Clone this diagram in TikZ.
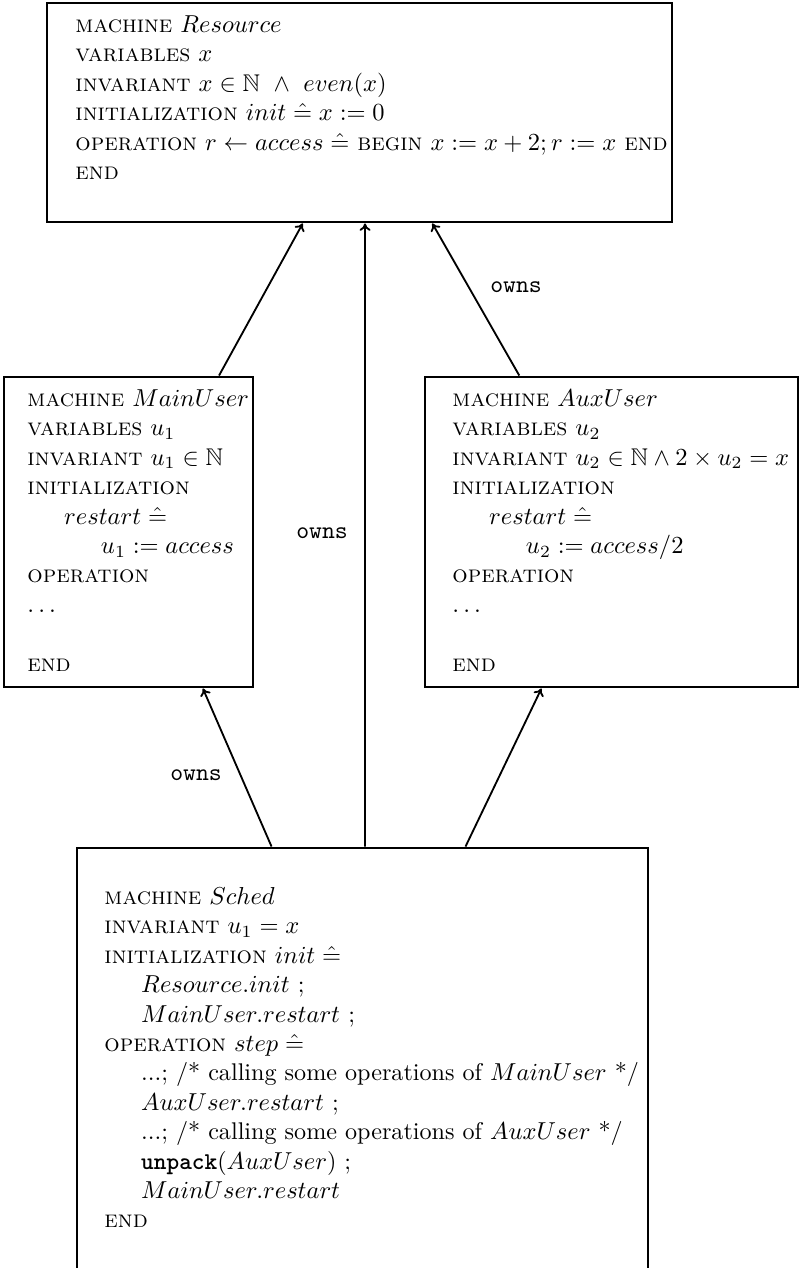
\documentclass[tikz,border=0pt]{standalone}
\usepackage{amssymb}
\usetikzlibrary{arrows.meta,calc,fit}
\newcommand{\defeq}{\mathrel{\hat{=}}}
\newcommand{\kw}[1]{\textsc{#1}}
\begin{document}
\begin{tikzpicture}[x=0.40816pt,y=-0.40816pt,
  machine/.style={draw,line width=1.2pt,inner sep=0pt},
  spec/.style={anchor=north west,inner sep=0pt,align=left,font=\fontsize{9.85}{12}\selectfont},
  ownsarrow/.style={-{To[length=3pt,width=4.5pt]},line width=0.75pt},
  lbl/.style={font=\fontsize{10}{12}\selectfont\ttfamily,inner sep=0pt}]
\useasboundingbox (0,0) rectangle (799,1268);
\clip (0,0) rectangle (799,1268);

% machine boxes
\node[machine,fit={(47,3)(672,222)}] (res) {};
\node[machine,fit={(4,377)(253,687)}] (mainu) {};
\node[machine,fit={(425,377)(798,687)}] (auxu) {};
\node[machine,fit={(77,848)(648,1300)}] (sched) {};

% machine texts
\node[spec] (restxt) at (75,11.4) {\strut\kw{machine} $Resource$\\
\kw{variables} $x$\\
\kw{invariant} $x \in \mathbb{N} \ \wedge\ even(x)$\\
\kw{initialization} $init \defeq x := 0$\\
\kw{operation} $r \leftarrow access \defeq$ \kw{begin} $x := x + 2; r := x$ \kw{end}\\
\kw{end}};

\node[spec] (maintxt) at (27,385.4) {\strut\kw{machine} $MainUser$\\
\kw{variables} $u_1$\\
\kw{invariant} $u_1 \in \mathbb{N}$\\
\kw{initialization}\\
\hspace*{15pt}$restart \defeq$\\
\hspace*{30pt}$u_1 := access$\\
\kw{operation}\\
$\ldots$\\[12pt]
\kw{end}};

\node[spec] (auxtxt) at (452,385.4) {\strut\kw{machine} $AuxUser$\\
\kw{variables} $u_2$\\
\kw{invariant} $u_2 \in \mathbb{N} \wedge 2 \times u_2 = x$\\
\kw{initialization}\\
\hspace*{15pt}$restart \defeq$\\
\hspace*{30pt}$u_2 := access/2$\\
\kw{operation}\\
$\ldots$\\[12pt]
\kw{end}};

\node[spec] (schedtxt) at (104,883.4) {\strut\kw{machine} $Sched$\\
\kw{invariant} $u_1 = x$\\
\kw{initialization} $init \defeq$\\
\hspace*{15pt}$Resource.init$ ;\\
\hspace*{15pt}$MainUser.restart$ ;\\
\kw{operation} $step \defeq$\\
\hspace*{15pt}...; /* calling some operations of $MainUser$ */\\
\hspace*{15pt}$AuxUser.restart$ ;\\
\hspace*{15pt}...; /* calling some operations of $AuxUser$ */\\
\hspace*{15pt}\textbf{\texttt{unpack}}($AuxUser$) ;\\
\hspace*{15pt}$MainUser.restart$\\
\kw{end}};

% ownership arrows
\draw[ownsarrow] ($(mainu.north west)!0.8594!(mainu.north east)$) -- ($(res.south west)!0.4096!(res.south east)$);
\draw[ownsarrow] ($(sched.north west)!0.5044!(sched.north east)$) -- ($(res.south west)!0.5088!(res.south east)$);
\draw[ownsarrow] ($(auxu.north west)!0.2547!(auxu.north east)$) -- ($(res.south west)!0.616!(res.south east)$);
\draw[ownsarrow] ($(sched.north west)!0.3415!(sched.north east)$) -- ($(mainu.south west)!0.7952!(mainu.south east)$);
\draw[ownsarrow] ($(sched.north west)!0.6795!(sched.north east)$) -- ($(auxu.south west)!0.3137!(auxu.south east)$);

% labels
\node[lbl] (ownsaux) at (516,287) {owns};
\node[lbl] (ownsmid) at (322,533) {owns};
\node[lbl] (ownsmain) at (196,775) {owns};
\end{tikzpicture}
\end{document}
